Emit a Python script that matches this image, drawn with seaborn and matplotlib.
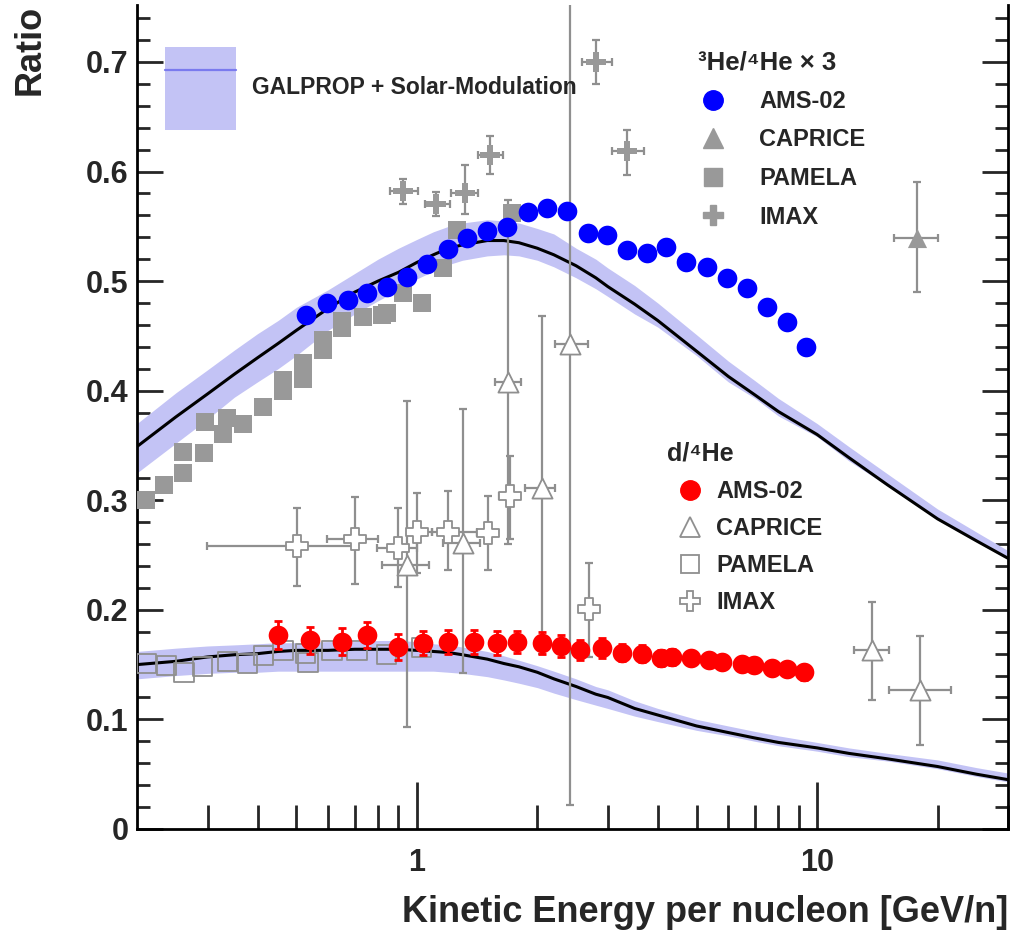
import numpy as np
import matplotlib
matplotlib.use("Agg")
import matplotlib.pyplot as plt
import seaborn as sns
from matplotlib.lines import Line2D
from matplotlib.patches import Patch
from matplotlib.ticker import FixedLocator, FixedFormatter, MultipleLocator

# ---------------- data ----------------
# GALPROP + solar modulation model curves
E_model = [0.2, 0.25, 0.3, 0.35, 0.4, 0.45, 0.5, 0.6, 0.7, 0.8, 0.9, 1.0, 1.1, 1.2, 1.3,
           1.5, 1.65, 1.8, 2.0, 2.2, 2.5, 2.8, 3.0, 3.5, 4.0, 5.0, 6.0, 7.0, 8.0, 10.0,
           12.0, 15.0, 20.0, 25.0, 30.0]
he3_model = [0.349, 0.376, 0.397, 0.415, 0.430, 0.443, 0.455, 0.475, 0.490, 0.500, 0.508,
             0.517, 0.524, 0.530, 0.533, 0.537, 0.537, 0.535, 0.530, 0.524, 0.514, 0.503,
             0.495, 0.479, 0.464, 0.436, 0.413, 0.396, 0.381, 0.360, 0.339, 0.314, 0.283,
             0.263, 0.247]
he3_band_hi = [0.370, 0.398, 0.419, 0.437, 0.452, 0.464, 0.476, 0.492, 0.507, 0.520, 0.530,
               0.538, 0.545, 0.550, 0.553, 0.556, 0.555, 0.553, 0.548, 0.543, 0.530, 0.520,
               0.512, 0.496, 0.480, 0.451, 0.427, 0.409, 0.393, 0.370, 0.349, 0.324, 0.292,
               0.271, 0.254]
he3_band_lo = [0.325, 0.352, 0.374, 0.394, 0.408, 0.420, 0.432, 0.455, 0.470, 0.482, 0.492,
               0.502, 0.509, 0.515, 0.519, 0.523, 0.524, 0.523, 0.519, 0.513, 0.503, 0.493,
               0.486, 0.470, 0.458, 0.432, 0.408, 0.393, 0.377, 0.358, 0.336, 0.313, 0.282,
               0.262, 0.246]
d_model = [0.150, 0.153, 0.157, 0.159, 0.160, 0.162, 0.163, 0.163, 0.164, 0.164, 0.164,
           0.163, 0.162, 0.161, 0.159, 0.155, 0.151, 0.148, 0.143, 0.137, 0.130, 0.123,
           0.120, 0.110, 0.104, 0.094, 0.088, 0.083, 0.079, 0.074, 0.069, 0.064, 0.057,
           0.050, 0.045]
d_band_hi = [0.162, 0.165, 0.167, 0.168, 0.169, 0.170, 0.170, 0.171, 0.171, 0.172, 0.172,
             0.171, 0.169, 0.168, 0.166, 0.162, 0.158, 0.154, 0.149, 0.144, 0.137, 0.130,
             0.127, 0.117, 0.110, 0.100, 0.094, 0.089, 0.085, 0.079, 0.074, 0.069, 0.063,
             0.056, 0.051]
d_band_lo = [0.137, 0.140, 0.142, 0.143, 0.143, 0.144, 0.144, 0.144, 0.144, 0.144, 0.144,
             0.144, 0.144, 0.143, 0.142, 0.139, 0.136, 0.133, 0.129, 0.124, 0.118, 0.113,
             0.110, 0.103, 0.098, 0.090, 0.085, 0.080, 0.076, 0.071, 0.066, 0.062, 0.055,
             0.048, 0.043]

# 3He/4He x 3 -- AMS-02
ams_he3_E = [0.529, 0.597, 0.673, 0.750, 0.842, 0.944, 1.059, 1.195, 1.333, 1.495, 1.676,
             1.891, 2.110, 2.366, 2.670, 2.995, 3.358, 3.767, 4.20, 4.71, 5.32, 5.97,
             6.69, 7.50, 8.42, 9.39]
ams_he3_R = [0.469, 0.480, 0.483, 0.489, 0.495, 0.504, 0.516, 0.529, 0.539, 0.546, 0.549,
             0.563, 0.567, 0.564, 0.544, 0.542, 0.528, 0.526, 0.531, 0.517, 0.513, 0.503,
             0.494, 0.476, 0.463, 0.440]

# 3He/4He x 3 -- PAMELA
pam_he3_E = [0.210, 0.233, 0.261, 0.261, 0.294, 0.296, 0.328, 0.336, 0.368, 0.413, 0.463,
             0.463, 0.520, 0.520, 0.583, 0.583, 0.650, 0.650, 0.733, 0.818, 0.842, 0.923,
             1.029, 1.161, 1.258, 1.726]
pam_he3_R = [0.300, 0.314, 0.325, 0.344, 0.343, 0.371, 0.360, 0.375, 0.370, 0.385, 0.400,
             0.410, 0.411, 0.425, 0.437, 0.446, 0.457, 0.464, 0.467, 0.469, 0.471, 0.489,
             0.480, 0.512, 0.547, 0.562]

# 3He/4He x 3 -- IMAX
imax_he3_E = [0.923, 1.115, 1.317, 1.52, 2.81, 3.36]
imax_he3_R = [0.582, 0.570, 0.580, 0.615, 0.700, 0.619]
imax_he3_Elo = [0.856, 1.047, 1.22, 1.42, 2.59, 3.07]
imax_he3_Ehi = [1.006, 1.21, 1.42, 1.64, 3.07, 3.70]
imax_he3_Rlo = [0.570, 0.559, 0.561, 0.598, 0.680, 0.597]
imax_he3_Rhi = [0.593, 0.581, 0.606, 0.632, 0.720, 0.638]

# 3He/4He x 3 -- CAPRICE
cap_he3_E = [17.8]
cap_he3_R = [0.539]
cap_he3_Elo = [15.6]
cap_he3_Ehi = [20.1]
cap_he3_Rlo = [0.490]
cap_he3_Rhi = [0.590]

# d/4He -- AMS-02
ams_d_E = [0.450, 0.541, 0.650, 0.750, 0.897, 1.035, 1.195, 1.387, 1.583, 1.776, 2.05,
           2.287, 2.55, 2.91, 3.265, 3.66, 4.08, 4.35, 4.85, 5.38, 5.79, 6.50, 6.96,
           7.72, 8.42, 9.28]
ams_d_R = [0.177, 0.172, 0.171, 0.177, 0.166, 0.170, 0.171, 0.171, 0.170, 0.171, 0.170,
           0.167, 0.163, 0.165, 0.161, 0.160, 0.156, 0.157, 0.156, 0.154, 0.152, 0.151,
           0.150, 0.147, 0.146, 0.143]
ams_d_err = [0.013, 0.012, 0.012, 0.012, 0.012, 0.011, 0.011, 0.011, 0.011, 0.010, 0.010,
             0.010, 0.009, 0.009, 0.008, 0.008, 0.007, 0.007, 0.006, 0.006, 0.006, 0.005,
             0.005, 0.005, 0.005, 0.007]

# d/4He -- PAMELA
pam_d_E = [0.211, 0.237, 0.262, 0.291, 0.336, 0.377, 0.415, 0.463, 0.526, 0.535, 0.614,
           0.709, 0.842, 1.029]
pam_d_R = [0.151, 0.149, 0.143, 0.148, 0.153, 0.151, 0.158, 0.163, 0.160, 0.152, 0.163,
           0.163, 0.159, 0.166]

# d/4He -- CAPRICE
cap_d_E = [0.944, 1.303, 1.686, 2.05, 2.41, 13.7, 18.07]
cap_d_R = [0.241, 0.261, 0.408, 0.311, 0.443, 0.163, 0.127]
cap_d_Elo = [0.818, 1.161, 1.565, 1.86, 2.21, 12.4, 15.1]
cap_d_Ehi = [1.071, 1.436, 1.82, 2.22, 2.67, 15.1, 21.6]
cap_d_Rlo = [0.093, 0.142, 0.26, 0.16, 0.022, 0.118, 0.077]
cap_d_Rhi = [0.391, 0.383, 0.574, 0.468, 0.80, 0.207, 0.176]

# d/4He -- IMAX
imax_d_E = [0.502, 0.700, 0.897, 1.0, 1.195, 1.503, 1.706, 2.70]
imax_d_R = [0.258, 0.265, 0.256, 0.271, 0.271, 0.270, 0.304, 0.201]
imax_d_Elo = [0.299, 0.597, 0.795, 0.95, 1.09, 1.41, 1.60, 2.59]
imax_d_Ehi = [0.692, 0.80, 1.0, 1.09, 1.41, 1.59, 1.81, 2.86]
imax_d_Rlo = [0.222, 0.224, 0.221, 0.234, 0.236, 0.236, 0.265, 0.157]
imax_d_Rhi = [0.293, 0.303, 0.293, 0.307, 0.308, 0.304, 0.340, 0.243]

x_major = [1, 10]
x_major_labels = ["1", "10"]
x_minor = [0.3, 0.4, 0.5, 0.6, 0.7, 0.8, 0.9, 2, 3, 4, 5, 6, 7, 8, 9, 20, 30]
y_major = [0.0, 0.1, 0.2, 0.3, 0.4, 0.5, 0.6, 0.7]
y_major_labels = ["0", "0.1", "0.2", "0.3", "0.4", "0.5", "0.6", "0.7"]

# ---------------- style ----------------
sns.set_theme(style="ticks")
plt.rcParams['font.family'] = ['Liberation Sans', 'DejaVu Sans']
plt.rcParams['font.weight'] = 'bold'
plt.rcParams['axes.labelweight'] = 'bold'

BLUE = "#0000ff"
RED = "#ff0000"
GRAY = "#999999"
EGRAY = "#8f8f8f"
BAND = "#c3c3f5"

fig = plt.figure(figsize=(10.12, 9.35), dpi=100)
ax = fig.add_axes([0.1354, 0.1134, 0.8607, 0.8813])
ax.set_xscale("log")

# model bands and curves
ax.fill_between(E_model, he3_band_lo, he3_band_hi, color=BAND, lw=0, zorder=1)
ax.fill_between(E_model, d_band_lo, d_band_hi, color=BAND, lw=0, zorder=1)
sns.lineplot(x=E_model, y=he3_model, color="black", lw=2.2, ax=ax, sort=False,
             estimator=None, zorder=2)
sns.lineplot(x=E_model, y=d_model, color="black", lw=2.2, ax=ax, sort=False,
             estimator=None, zorder=2)


def xyerr(x, y, xlo, xhi, ylo, yhi):
    xe = [np.subtract(x, xlo), np.subtract(xhi, x)]
    ye = [np.subtract(y, ylo), np.subtract(yhi, y)]
    return xe, ye


eb_kw = dict(fmt="none", ecolor=EGRAY, elinewidth=1.6, capsize=3, capthick=1.6, zorder=3)

xe, ye = xyerr(imax_he3_E, imax_he3_R, imax_he3_Elo, imax_he3_Ehi, imax_he3_Rlo, imax_he3_Rhi)
ax.errorbar(imax_he3_E, imax_he3_R, xerr=xe, yerr=ye, **eb_kw)
xe, ye = xyerr(cap_he3_E, cap_he3_R, cap_he3_Elo, cap_he3_Ehi, cap_he3_Rlo, cap_he3_Rhi)
ax.errorbar(cap_he3_E, cap_he3_R, xerr=xe, yerr=ye, **eb_kw)
xe, ye = xyerr(cap_d_E, cap_d_R, cap_d_Elo, cap_d_Ehi, cap_d_Rlo, cap_d_Rhi)
ax.errorbar(cap_d_E, cap_d_R, xerr=xe, yerr=ye, **eb_kw)
xe, ye = xyerr(imax_d_E, imax_d_R, imax_d_Elo, imax_d_Ehi, imax_d_Rlo, imax_d_Rhi)
ax.errorbar(imax_d_E, imax_d_R, xerr=xe, yerr=ye, **eb_kw)
ax.errorbar(ams_d_E, ams_d_R, yerr=ams_d_err, fmt="none", ecolor=RED, elinewidth=2,
            capsize=3, capthick=2, zorder=5)

# markers
sns.scatterplot(x=pam_he3_E, y=pam_he3_R, marker="s", s=170, color=GRAY, edgecolor=GRAY,
                linewidth=0, ax=ax, zorder=4)
sns.scatterplot(x=pam_d_E, y=pam_d_R, marker="s", s=190, color="none", edgecolor=EGRAY,
                linewidth=1.3, ax=ax, zorder=4)
sns.scatterplot(x=imax_he3_E, y=imax_he3_R, marker="P", s=200, color=GRAY, edgecolor=GRAY,
                linewidth=0, ax=ax, zorder=4)
sns.scatterplot(x=cap_he3_E, y=cap_he3_R, marker="^", s=190, color=GRAY, edgecolor=GRAY,
                linewidth=0, ax=ax, zorder=4)
sns.scatterplot(x=cap_d_E, y=cap_d_R, marker="^", s=210, color="white", edgecolor=EGRAY,
                linewidth=1.3, ax=ax, zorder=4)
sns.scatterplot(x=imax_d_E, y=imax_d_R, marker="P", s=230, color="white", edgecolor=EGRAY,
                linewidth=1.3, ax=ax, zorder=4)
sns.scatterplot(x=ams_he3_E, y=ams_he3_R, marker="o", s=200, color=BLUE, edgecolor=BLUE,
                linewidth=0, ax=ax, zorder=6)
sns.scatterplot(x=ams_d_E, y=ams_d_R, marker="o", s=200, color=RED, edgecolor=RED,
                linewidth=0, ax=ax, zorder=6)

# ---------------- axes ----------------
ax.set_xlim(0.2, 30)
ax.set_ylim(0, 0.752)
ax.xaxis.set_major_locator(FixedLocator(x_major))
ax.xaxis.set_major_formatter(FixedFormatter(x_major_labels))
ax.xaxis.set_minor_locator(FixedLocator(x_minor))
ax.xaxis.set_minor_formatter(FixedFormatter([""] * len(x_minor)))
ax.yaxis.set_major_locator(FixedLocator(y_major))
ax.yaxis.set_major_formatter(FixedFormatter(y_major_labels))
ax.yaxis.set_minor_locator(MultipleLocator(0.02))

for name, sp in ax.spines.items():
    sp.set_linewidth(2)
    sp.set_color("black")
    sp.set_visible(name != "top")

ax.tick_params(axis="x", which="major", direction="in", length=34, width=2,
               top=False, bottom=True, labelsize=22, pad=14)
ax.tick_params(axis="x", which="minor", direction="in", length=17, width=2,
               top=False, bottom=True)
ax.tick_params(axis="y", which="major", direction="in", length=19, width=2,
               left=True, right=True, labelsize=22, pad=6)
ax.tick_params(axis="y", which="minor", direction="in", length=9.5, width=2,
               left=True, right=True)
for lab in ax.get_xticklabels() + ax.get_yticklabels():
    lab.set_fontweight("bold")

ax.set_xlabel("Kinetic Energy per nucleon [GeV/n]", fontsize=26, fontweight="bold",
              loc="right", labelpad=12)
ax.set_ylabel("Ratio", fontsize=26, fontweight="bold", loc="top", labelpad=28)

# ---------------- legends ----------------
h_model = (Patch(facecolor=BAND, edgecolor="none"),
           Line2D([], [], color="#7a7aee", lw=1.6))
leg1 = ax.legend([h_model], ["GALPROP + Solar-Modulation"], loc="upper left",
                 bbox_to_anchor=(0.032, 0.949), frameon=False,
                 handlelength=3.1, handleheight=5.2, handletextpad=0.7,
                 borderpad=0, borderaxespad=0, prop={"weight": "bold", "size": 16.5})
ax.add_artist(leg1)

h_he3 = [Line2D([], [], ls="none", marker="o", ms=14, mfc=BLUE, mec=BLUE),
         Line2D([], [], ls="none", marker="^", ms=14, mfc=GRAY, mec=GRAY),
         Line2D([], [], ls="none", marker="s", ms=13, mfc=GRAY, mec=GRAY),
         Line2D([], [], ls="none", marker="P", ms=14, mfc=GRAY, mec=GRAY)]
names = ["AMS-02", "CAPRICE", "PAMELA", "IMAX"]
leg2 = ax.legend(h_he3, names, title="³He/⁴He × 3", loc="upper left",
                 bbox_to_anchor=(0.644, 0.945), frameon=False,
                 prop={"weight": "bold", "size": 17},
                 title_fontproperties={"weight": "bold", "size": 18.5},
                 handlelength=1.3, handletextpad=1.3, labelspacing=0.66,
                 borderpad=0, borderaxespad=0, alignment="left")
ax.add_artist(leg2)

h_d = [Line2D([], [], ls="none", marker="o", ms=14, mfc=RED, mec=RED),
       Line2D([], [], ls="none", marker="^", ms=14, mfc="white", mec=EGRAY, mew=1.3),
       Line2D([], [], ls="none", marker="s", ms=13, mfc="white", mec=EGRAY, mew=1.3),
       Line2D([], [], ls="none", marker="P", ms=14, mfc="white", mec=EGRAY, mew=1.3)]
leg3 = ax.legend(h_d, names, title="d/⁴He", loc="upper left",
                 bbox_to_anchor=(0.608, 0.47), frameon=False,
                 prop={"weight": "bold", "size": 17},
                 title_fontproperties={"weight": "bold", "size": 18},
                 handlelength=2.0, handletextpad=0.1, labelspacing=0.6,
                 borderpad=0, borderaxespad=0, alignment="left")

fig.savefig("out.png", dpi=100)
